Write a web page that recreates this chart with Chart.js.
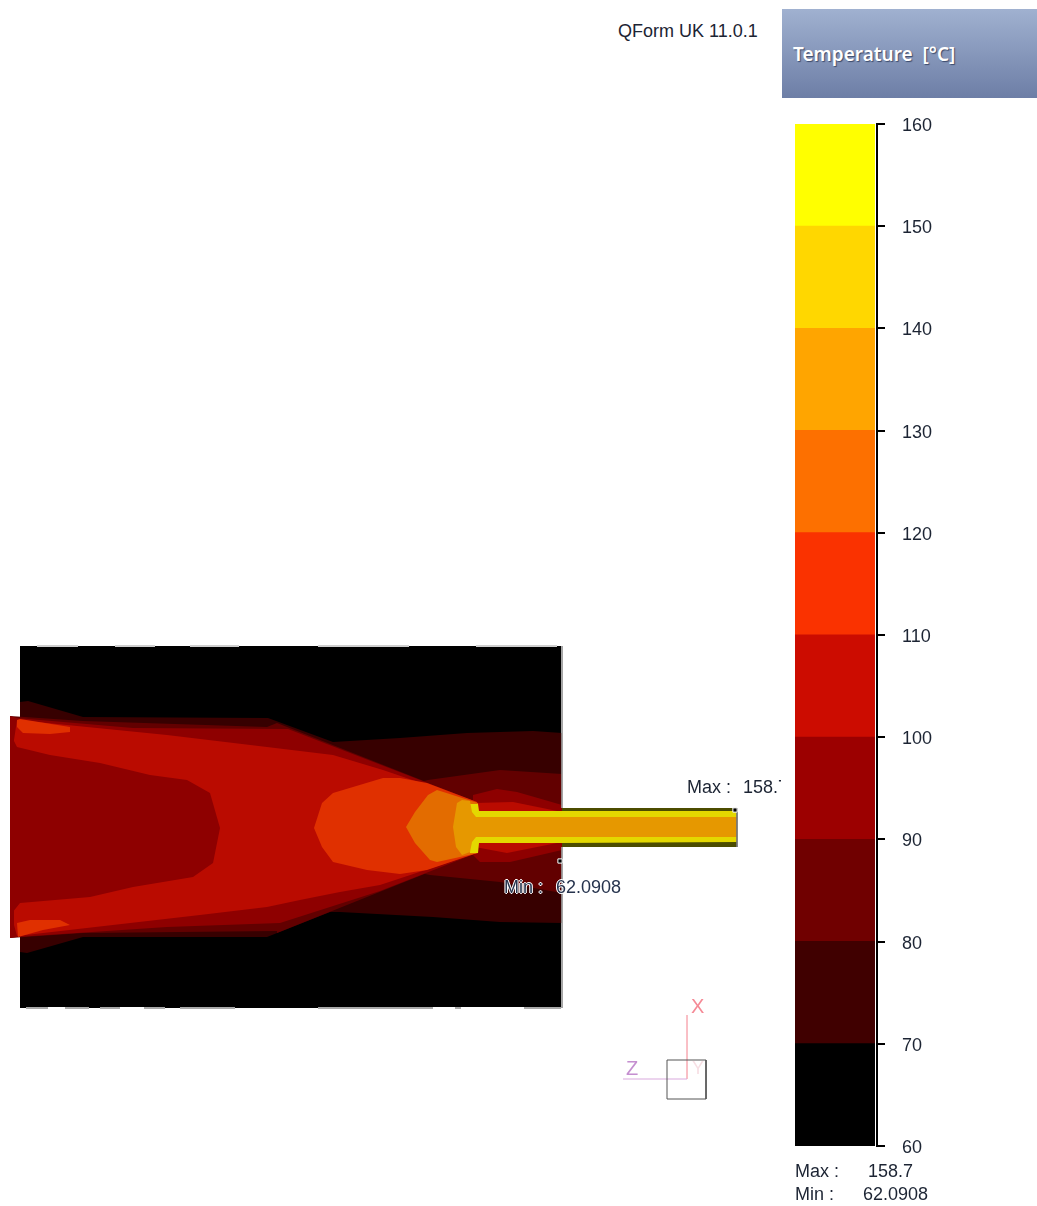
<!DOCTYPE html>
<html>
<head>
<meta charset="utf-8">
<title>Temperature</title>
<script src="https://cdn.jsdelivr.net/npm/chart.js@4/dist/chart.umd.min.js"></script>
<style>
html, body { margin: 0; background: #fff; }
body { position: relative; width: 1037px; height: 1206px; overflow: hidden; font-family: "Liberation Sans", sans-serif; color: #1c2433; }
canvas { position: absolute; }
#fieldChart { filter: blur(0.5px); }
.txt { position: absolute; white-space: nowrap; font-size: 18px; line-height: 20px; }
#panel { position: absolute; left: 782px; top: 9px; width: 255px; height: 89px; background: linear-gradient(#a0b1d0, #6d7ea6); }
#panelTitle { position: absolute; left: 11px; top: 32px; color: #fff; font: 600 19px "Noto Sans", sans-serif; white-space: pre; text-shadow: 1px 1px 1px #3b4a6b; }
#maxValue { left: 743px; top: 777px; width: 38px; overflow: hidden; }
.halo { color: #26334d; text-shadow: 1px 0 0 #fff, -1px 0 0 #fff, 0 1px 0 #fff, 0 -1px 0 #fff; }
</style>
</head>
<body>
<canvas id="fieldChart" width="782" height="470" style="left:0;top:640px"></canvas>
<canvas id="scaleChart" width="247" height="1060" style="left:790px;top:110px"></canvas>

<div class="txt" style="left:618px;top:21px">QForm UK 11.0.1</div>
<div id="panel"><div id="panelTitle">Temperature  [°C]</div></div>
<div class="txt" style="left:687px;top:777px">Max :</div>
<div class="txt" id="maxValue">158.7</div>
<div class="txt halo" style="left:504px;top:877px">Min :</div>
<div class="txt halo" style="left:556px;top:877px">62.0908</div>
<div class="txt" style="left:795px;top:1161px">Max :</div>
<div class="txt" style="left:868px;top:1161px">158.7</div>
<div class="txt" style="left:795px;top:1184px">Min :</div>
<div class="txt" style="left:863px;top:1184px">62.0908</div>
<div class="txt" style="left:691px;top:996px;color:#f58a96;font-size:20px">X</div>
<div class="txt" style="left:626px;top:1058px;color:#c58fd0;font-size:20px">Z</div>
<div class="txt" style="left:692px;top:1058px;color:#f7dfe4;font-size:18px">Y</div>

<script>
// colour scale
const tickValues = [60, 70, 80, 90, 100, 110, 120, 130, 140, 150, 160];
const bandColors = ['#000000', '#400000', '#700000', '#9c0000', '#cc0c00', '#fa3200', '#fd7000', '#ffa500', '#ffd700', '#ffff00'];

// isotherm regions as [x, y]
const dieBlock = [[20,646],[561,646],[561,1008],[20,1008]];
const band70 = [[20,702],[28,701],[83,717],[268,718],[333,742],[400,738],[467,733],[533,731],[562,733],[562,923],[500,922],[433,917],[340,912],[330,912],[267,937],[83,937],[27,953],[20,952]];
const outer80 = [[420,782],[428,780],[500,770],[562,774],[562,893],[500,882],[430,875],[420,873]];
const outer90 = [[473,795],[497,789],[517,792],[562,805],[562,850],[510,862],[480,862],[473,855]];
const outer100 = [[475,803],[513,802],[562,812],[562,842],[507,853],[475,847]];
const body80 = [[10,716],[83,721],[267,727],[277,723],[477,802],[477,853],[277,933],[277,931],[83,933],[10,938]];
const body90 = [[10,716],[17,718],[133,728],[288,729],[477,802],[477,853],[380,891],[280,923],[167,927],[17,937],[10,938]];
const body100 = [[17,720],[167,735],[267,747],[333,755],[383,770],[477,802],[477,853],[380,885],[340,892],[300,900],[267,907],[200,915],[17,936],[14,925],[14,740]];
const core90 = [[10,716],[12,737],[17,747],[50,755],[100,763],[150,775],[187,780],[210,793],[220,828],[213,863],[193,877],[133,887],[90,897],[20,903],[12,913],[10,938]];
const hotTop = [[17,720],[20,719],[70,727],[70,732],[50,734],[23,733],[17,727]];
const hotBottom = [[17,923],[30,920],[60,920],[70,925],[43,930],[18,937]];
const core110 = [[314,828],[322,803],[333,793],[383,778],[400,778],[427,783],[477,802],[477,853],[427,870],[400,874],[367,870],[333,862],[322,847]];
const core120 = [[406,827],[415,812],[428,795],[437,790],[478,803],[478,853],[437,862],[430,860],[415,843]];
const tubeSkin = [[562,808],[737,808],[737,847],[562,847]];
const tube140 = [[468,812],[470,804],[478,804],[479,811],[737,811],[737,842],[562,843],[479,843],[478,853],[470,853],[468,846]];
const tube130 = [[453,827],[457,803],[462,800],[470,801],[472,812],[476,817],[737,817],[737,837],[476,837],[472,842],[470,852],[462,855],[456,847]];

// light and white bits along the block edge
const edgeTop = [[37,646],[78,646],[null,null],[115,646],[155,646],[null,null],[190,646],[239,646],[null,null],[318,646],[409,646],[null,null],[476,646],[557,646]];
const edgeBottom = [[26,1008],[48,1008],[null,null],[65,1008],[89,1008],[null,null],[100,1008],[120,1008],[null,null],[144,1008],[165,1008],[null,null],[180,1008],[235,1008],[null,null],[318,1008],[433,1008],[null,null],[455,1008],[461,1008],[null,null],[524,1008],[561,1008]];
const edgeNotches = [[48,1008],[65,1008],[null,null],[120,1008],[144,1008],[null,null],[433,1008],[455,1008],[null,null],[461,1008],[524,1008]];
const edgeRight = [[562,646],[562,808],[null,null],[562,847],[562,1008]];
const tubeEnd = [[737,808],[737,847]];

const maxPoint = [[735,810]];
const minPoint = [[560,861]];

// orientation triad
const axisX = [[687,1015],[687,1079]];
const axisZ = [[623,1079],[687,1079]];
const triadBox = [[667,1060],[706,1060],[706,1099],[667,1099],[667,1060]];

function toPoints(list) {
    return list.map(p => ({ x: p[0], y: p[1] }));
}

function region(list, color) {
    return { data: toPoints(list.concat([list[0]])), showLine: true, fill: 'shape', backgroundColor: color, borderWidth: 0, pointRadius: 0, tension: 0 };
}

function stroke(list, color, width) {
    return { data: toPoints(list), showLine: true, fill: false, borderColor: color, borderWidth: width, pointRadius: 0, tension: 0, spanGaps: false };
}

function marker(list) {
    return { data: toPoints(list), showLine: false, pointStyle: 'rect', pointRadius: 3, backgroundColor: '#000', borderColor: '#fff', borderWidth: 1 };
}

let fieldSets = [
    region(dieBlock, '#000000'),
    region(band70, '#370000'),
    region(outer80, '#620000'),
    region(outer90, '#8e0000'),
    region(outer100, '#ba0b00'),
    region(tubeSkin, '#4c4c00'),
    region(body80, '#620000'),
    region(body90, '#8e0000'),
    region(body100, '#ba0b00'),
    region(core90, '#8e0000'),
    region(hotTop, '#e03000'),
    region(hotBottom, '#e03000'),
    region(core110, '#e03000'),
    region(core120, '#e36c00'),
    region(tube140, '#e4d800'),
    region(tube130, '#e69800'),
    stroke(edgeTop, '#cfcfcf', 2),
    stroke(edgeBottom, '#aaaaaa', 2),
    stroke(edgeNotches, '#ffffff', 2),
    stroke(edgeRight, '#9a9a9a', 1),
    stroke(tubeEnd, '#777777', 1),
    stroke(axisX, '#f9b6bd', 1),
    stroke(axisZ, '#d9a9dd', 1),
    stroke(triadBox, '#555555', 1),
    marker(maxPoint),
    marker(minPoint)
];
fieldSets.forEach((d, i) => { d.order = fieldSets.length - i; });

var fieldChart = new Chart(document.getElementById('fieldChart'), {
    type: 'scatter',
    data: { datasets: fieldSets },
    options: {
        responsive: false,
        animation: false,
        layout: { padding: 0, autoPadding: false },
        plugins: { legend: { display: false }, tooltip: { enabled: false } },
        scales: {
            x: { type: 'linear', display: false, min: 0, max: 782 },
            y: { type: 'linear', display: false, min: 640, max: 1110, reverse: true }
        }
    }
});

var scaleChart = new Chart(document.getElementById('scaleChart'), {
    type: 'bar',
    data: {
        labels: ['T'],
        datasets: bandColors.map((c, i) => ({
            data: [[tickValues[i], tickValues[i + 1]]],
            backgroundColor: c,
            borderWidth: 0,
            barPercentage: 79 / 84,
            categoryPercentage: 1,
            inflateAmount: 0.5,
            grouped: false
        }))
    },
    options: {
        responsive: false,
        animation: false,
        layout: { padding: { left: 3, top: 14, bottom: 24, right: 0 }, autoPadding: false },
        plugins: { legend: { display: false }, tooltip: { enabled: false } },
        scales: {
            x: { display: false },
            y: {
                position: 'right',
                min: 60,
                max: 160,
                // labels stick out past the bar ends, no extra room wanted for them
                afterFit: s => { s.width = 160; s.paddingTop = 0; s.paddingBottom = 0; },
                afterBuildTicks: s => { s.ticks = tickValues.map(v => ({ value: v })); },
                border: { color: '#000', width: 2 },
                grid: { drawOnChartArea: false, color: '#000', lineWidth: 2, tickLength: 8 },
                ticks: { color: '#1c2433', padding: 17, labelOffset: 2, font: { family: 'Liberation Sans', size: 18 } }
            }
        }
    }
});
</script>
</body>
</html>
